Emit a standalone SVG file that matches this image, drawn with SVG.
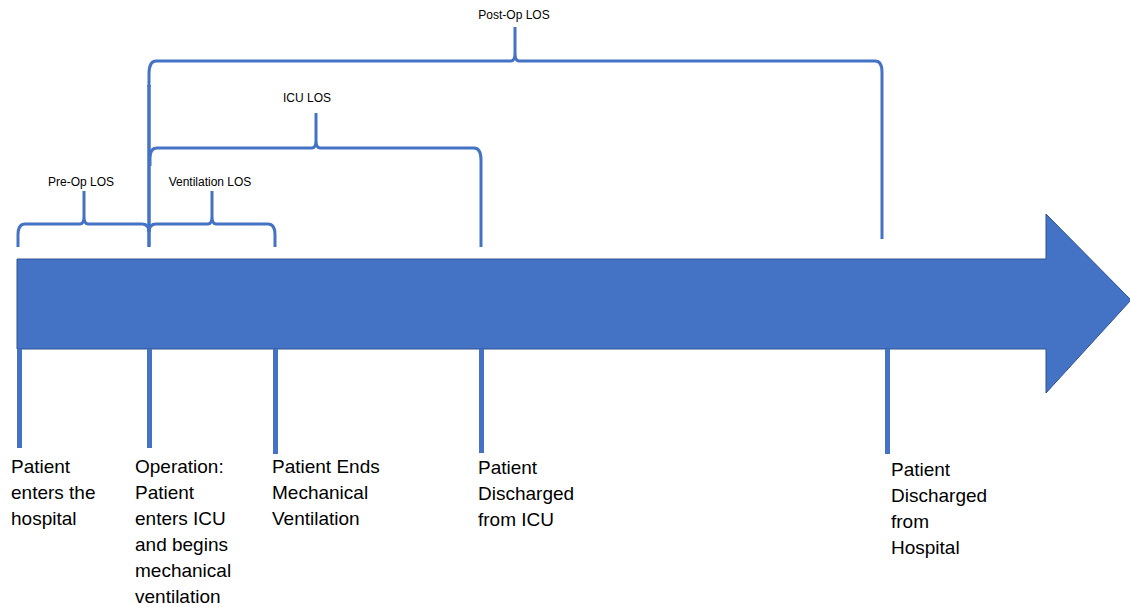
<svg xmlns="http://www.w3.org/2000/svg" width="1130" height="607" viewBox="0 0 1130 607">
  <style>
    .brace { fill: none; stroke: #4472C4; stroke-width: 3; stroke-linejoin: round; }
    .tick { fill: #4472C4; }
    .span-label { font-family: "Liberation Sans", Arial, sans-serif; font-size: 12px; fill: #000; text-anchor: middle; }
    .event { font-family: "Liberation Sans", Arial, sans-serif; font-size: 19px; fill: #000; }
  </style>
  <rect width="1130" height="607" fill="#fff"/>

  <!-- timeline arrow -->
  <g id="timeline">
    <polygon points="17,259 1046,259 1046,214 1131,300 1046,393 1046,349 17,349" fill="#4472C4" stroke="#2F528F" stroke-width="1"/>
  </g>

  <!-- event markers and interval braces -->
  <g id="connectors">
    <!-- markers below the timeline -->
    <rect class="tick" x="17" y="349" width="5" height="99"/>
    <rect class="tick" x="147" y="349" width="5" height="99"/>
    <rect class="tick" x="273" y="349" width="5" height="105"/>
    <rect class="tick" x="479" y="349" width="5" height="104"/>
    <rect class="tick" x="885" y="349" width="5" height="105"/>
    <!-- operation marker above the timeline -->
    <line x1="149" y1="85" x2="149" y2="247" stroke="#4472C4" stroke-width="3.5"/>
  </g>

  <g id="brace-post-op">
    <path class="brace" d="M149,87 L149,74 Q149,61 156,61 L511,61 Q515,61 515,53 L515,27 M515,53 Q515,61 519,61 L875,61 Q882,61 882,72 L882,239"/>
    <text class="span-label" x="514" y="19">Post-Op LOS</text>
  </g>

  <g id="brace-icu">
    <path class="brace" d="M150,166 L150,158 Q150,148 157,148 L312,148 Q316,148 316,140 L316,113 M316,140 Q316,148 320,148 L474,148 Q481,148 481,160 L481,247"/>
    <text class="span-label" x="307" y="102">ICU LOS</text>
  </g>

  <g id="brace-pre-op">
    <path class="brace" d="M18,247 L18,235 Q18,224 25,224 L80,224 Q84,224 84,216 L84,191 M84,216 Q84,224 88,224 L142,224 Q149,224 149,232"/>
    <text class="span-label" x="81" y="186">Pre-Op LOS</text>
  </g>

  <g id="brace-ventilation">
    <path class="brace" d="M149,232 Q149,224 156,224 L208,224 Q212,224 212,216 L212,191 M212,216 Q212,224 216,224 L268,224 Q275,224 275,235 L275,247"/>
    <text class="span-label" x="210" y="186">Ventilation LOS</text>
  </g>

  <!-- event labels -->
  <g id="event-admission">
    <text class="event" x="11"><tspan x="11" y="473">Patient</tspan><tspan x="11" y="499">enters the</tspan><tspan x="11" y="525">hospital</tspan></text>
  </g>
  <g id="event-operation">
    <text class="event" x="135"><tspan x="135" y="473">Operation:</tspan><tspan x="135" y="499">Patient</tspan><tspan x="135" y="525">enters ICU</tspan><tspan x="135" y="551">and begins</tspan><tspan x="135" y="577">mechanical</tspan><tspan x="135" y="603">ventilation</tspan></text>
  </g>
  <g id="event-extubation">
    <text class="event" x="272"><tspan x="272" y="473">Patient Ends</tspan><tspan x="272" y="499">Mechanical</tspan><tspan x="272" y="525">Ventilation</tspan></text>
  </g>
  <g id="event-icu-discharge">
    <text class="event" x="478"><tspan x="478" y="474">Patient</tspan><tspan x="478" y="500">Discharged</tspan><tspan x="478" y="526">from ICU</tspan></text>
  </g>
  <g id="event-hospital-discharge">
    <text class="event" x="891"><tspan x="891" y="476">Patient</tspan><tspan x="891" y="502">Discharged</tspan><tspan x="891" y="528">from</tspan><tspan x="891" y="554">Hospital</tspan></text>
  </g>
</svg>
